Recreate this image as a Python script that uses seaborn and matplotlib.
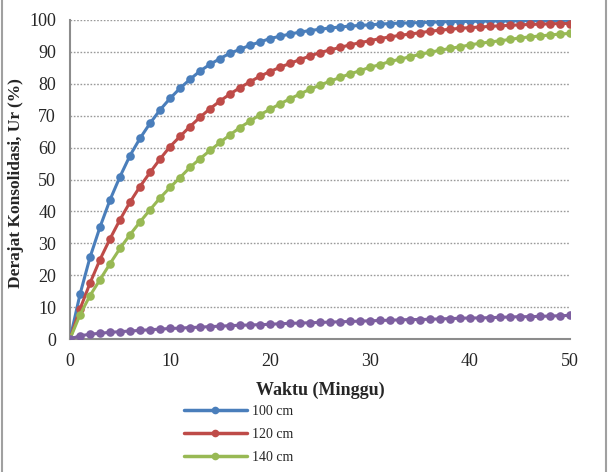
import numpy as np
import pandas as pd
import matplotlib
matplotlib.use('Agg')
import matplotlib.pyplot as plt
import seaborn as sns
from matplotlib.lines import Line2D

# =====================================
# DATA
# =====================================

minggu = list(range(0, 51))

ur_100 = [0, 14.0, 25.6, 35.1, 43.6, 50.9, 57.5, 62.9, 67.6, 71.8,
          75.4, 78.6, 81.4, 84.0, 86.1, 87.9, 89.6, 90.8, 92.1, 93.1,
          94.2, 94.9, 95.6, 96.2, 96.7, 97.1, 97.5, 97.8, 98.1, 98.3,
          98.5, 98.7, 98.9, 99.0, 99.1, 99.2, 99.3, 99.4, 99.5, 99.5,
          99.6, 99.6, 99.7, 99.7, 99.7, 99.8, 99.8, 99.8, 99.8, 99.9,
          99.9]

ur_120 = [0, 9.4, 17.5, 24.9, 31.4, 37.4, 42.9, 47.8, 52.2, 56.4,
          60.3, 63.5, 66.6, 69.5, 72.2, 74.6, 76.8, 78.8, 80.6, 82.4,
          83.8, 85.2, 86.4, 87.6, 88.7, 89.8, 90.6, 91.4, 92.2, 92.9,
          93.5, 94.2, 94.7, 95.2, 95.6, 96.0, 96.5, 96.8, 97.1, 97.4,
          97.6, 97.8, 98.0, 98.2, 98.3, 98.5, 98.6, 98.7, 98.8, 98.9,
          98.9]

ur_140 = [0, 7.6, 13.6, 18.6, 23.6, 28.4, 32.7, 36.7, 40.5, 44.2,
          47.5, 50.6, 53.8, 56.5, 59.1, 61.6, 64.0, 66.3, 68.3, 70.3,
          72.0, 73.7, 75.3, 76.8, 78.3, 79.6, 80.8, 82.0, 83.1, 84.1,
          85.2, 86.0, 87.0, 87.7, 88.5, 89.2, 89.9, 90.5, 91.1, 91.6,
          92.2, 92.7, 93.1, 93.5, 93.9, 94.4, 94.7, 95.0, 95.3, 95.6,
          95.8]

ur_lain = [0, 1.0, 1.5, 1.8, 2.1, 2.3, 2.5, 2.7, 2.9, 3.1,
           3.3, 3.4, 3.6, 3.7, 3.9, 4.0, 4.2, 4.3, 4.4, 4.5,
           4.6, 4.8, 4.9, 5.0, 5.1, 5.2, 5.3, 5.4, 5.5, 5.6,
           5.7, 5.8, 5.9, 6.0, 6.1, 6.1, 6.2, 6.3, 6.4, 6.5,
           6.6, 6.6, 6.7, 6.8, 6.9, 7.0, 7.0, 7.1, 7.2, 7.3,
           7.4]

labels = ['100 cm', '120 cm', '140 cm', 'lain']
warna = ['#4A7EBB', '#BE4B48', '#98B954', '#7D5FA0']

df = pd.DataFrame({
    'Minggu': minggu * 4,
    'Ur': ur_100 + ur_120 + ur_140 + ur_lain,
    'Seri': sum([[lab] * len(minggu) for lab in labels], [])
})

# =====================================
# PLOT
# =====================================

sns.set_style('white')
plt.rcParams['font.family'] = ['Liberation Serif', 'DejaVu Serif']

fig = plt.figure(figsize=(6.09, 4.72), dpi=100)
ax = fig.add_axes([70/609, 1 - 339/472, 500/609, 319/472])

sns.lineplot(
    data=df, x='Minggu', y='Ur', hue='Seri',
    hue_order=labels, palette=warna,
    marker='o', markersize=6.2, markeredgewidth=0,
    linewidth=2.2, ax=ax, legend=False, zorder=3
)

ax.set_xlim(0, 50)
ax.set_ylim(0, 100)
ax.set_xticks(range(0, 51, 10))
ax.set_yticks(range(0, 101, 10))

for y in range(10, 101, 10):
    ax.axhline(y, color='#9a9a9a', linestyle=(0, (1.2, 1.2)),
               linewidth=1.0, zorder=1)

for side in ['top', 'right']:
    ax.spines[side].set_visible(False)
for side in ['left', 'bottom']:
    ax.spines[side].set_color('#8c8c8c')
    ax.spines[side].set_linewidth(1.5)

ax.tick_params(axis='both', direction='out', length=4, width=1.2,
               color='#8c8c8c', labelsize=13)
ax.tick_params(axis='y', pad=6)
ax.tick_params(axis='x', pad=6)

ax.set_xlabel('Waktu (Minggu)', fontsize=13, fontweight='bold')
ax.set_ylabel('Derajat Konsolidasi, Ur (%)', fontsize=12.5,
              fontweight='bold')
ax.xaxis.set_label_coords(0.5, -0.135)
ax.yaxis.set_label_coords(-0.092, 0.49)

handles = [
    Line2D([], [], color=c, marker='o', markersize=5.5,
           markeredgewidth=0, linewidth=2.5)
    for c in warna[:3]
]
fig.legend(
    handles, labels[:3],
    loc='upper left', bbox_to_anchor=(178/609, 1 - 399/472),
    frameon=False, fontsize=10, handlelength=4.6,
    handletextpad=0.3, labelspacing=0.72, borderaxespad=0
)

# garis tepi gambar
fig.add_artist(Line2D([2/609, 2/609], [0, 1], color='#a0a0a0', linewidth=1.5))
fig.add_artist(Line2D([606/609, 606/609], [0, 1], color='#a0a0a0', linewidth=1.5))

fig.savefig('out.png', dpi=100)
